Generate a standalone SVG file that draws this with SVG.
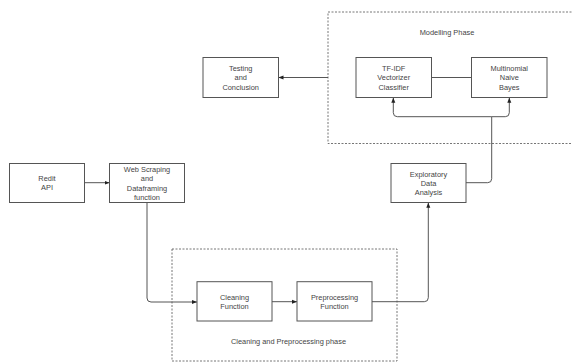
<svg xmlns="http://www.w3.org/2000/svg" width="572" height="363" viewBox="0 0 572 363">
<style>
.box{fill:#fff;stroke:#555;stroke-width:1}
.grp{fill:none;stroke:#666;stroke-width:0.9;stroke-dasharray:2,1.5}
.t{font-family:"Liberation Sans",Arial,sans-serif;font-size:7.4px;fill:#444;text-anchor:middle}
.c{fill:none;stroke:#555;stroke-width:1}
</style>
<defs>
<marker id="ah" viewBox="0 0 10 10" refX="10" refY="5" markerWidth="5" markerHeight="5" orient="auto" markerUnits="userSpaceOnUse">
<path d="M0 1 L10 5 L0 9 Z" fill="#222"/>
</marker>
</defs>
<rect width="572" height="363" fill="#fff"/>
<g id="modelling-phase">
<rect class="grp" x="328" y="12" width="250" height="131.5"/>
<text class="t" x="447" y="34.5">Modelling Phase</text>
</g>
<g id="cleaning-phase">
<rect class="grp" x="172" y="249" width="225" height="112"/>
<text class="t" x="288.5" y="344">Cleaning and Preprocessing phase</text>
</g>
<g id="connectors">
<path class="c" d="M84.5 182.7 H109.5" marker-end="url(#ah)"/>
<path class="c" d="M147 202.7 V298 Q147 302 151 302 H197" marker-end="url(#ah)"/>
<path class="c" d="M272 301.7 H297" marker-end="url(#ah)"/>
<path class="c" d="M372 301.7 H424.3 Q428.3 301.7 428.3 297.7 V202.7" marker-end="url(#ah)"/>
<path class="c" d="M466 182.7 H487.7 Q491.7 182.7 491.7 178.7 V116.7"/>
<path class="c" d="M491.7 116.7 H397.3 Q393.3 116.7 393.3 112.7 V97.7" marker-end="url(#ah)"/>
<path class="c" d="M491.7 116.7 H505.3 Q509.3 116.7 509.3 112.7 V97.7" marker-end="url(#ah)"/>
<path class="c" d="M431.5 77.5 H471.5"/>
<path class="c" d="M328 77.5 H278.5" marker-end="url(#ah)"/>
</g>
<g id="redit">
<rect class="box" x="9.5" y="163.5" width="75" height="39"/>
<text class="t" x="47" y="180.8">Redit</text>
<text class="t" x="47" y="190.2">API</text>
</g>
<g id="web-scraping">
<rect class="box" x="109.5" y="163.5" width="75" height="39"/>
<text class="t" x="147" y="172">Web Scraping</text>
<text class="t" x="147" y="181.3">and</text>
<text class="t" x="147" y="190.8">Dataframing</text>
<text class="t" x="147" y="200">function</text>
</g>
<g id="testing">
<rect class="box" x="203" y="57.5" width="75.5" height="40"/>
<text class="t" x="240.7" y="70.8">Testing</text>
<text class="t" x="240.7" y="80.2">and</text>
<text class="t" x="240.7" y="89.8">Conclusion</text>
</g>
<g id="tfidf">
<rect class="box" x="356" y="57.5" width="75.5" height="40"/>
<text class="t" x="393.7" y="70.8">TF-IDF</text>
<text class="t" x="393.7" y="80.2">Vectorizer</text>
<text class="t" x="393.7" y="89.8">Classifier</text>
</g>
<g id="multinomial">
<rect class="box" x="471.5" y="57.5" width="75.5" height="40"/>
<text class="t" x="509.3" y="70.8">Multinomial</text>
<text class="t" x="509.3" y="80.2">Naive</text>
<text class="t" x="509.3" y="89.8">Bayes</text>
</g>
<g id="eda">
<rect class="box" x="391" y="163.5" width="75" height="39"/>
<text class="t" x="428.5" y="176.6">Exploratory</text>
<text class="t" x="428.5" y="185.6">Data</text>
<text class="t" x="428.5" y="195">Analysis</text>
</g>
<g id="cleaning">
<rect class="box" x="197" y="281.7" width="75" height="39.3"/>
<text class="t" x="234.5" y="300.2">Cleaning</text>
<text class="t" x="234.5" y="309.3">Function</text>
</g>
<g id="preprocessing">
<rect class="box" x="297" y="281.7" width="75" height="39.3"/>
<text class="t" x="334.5" y="300.2">Preprocessing</text>
<text class="t" x="334.5" y="309.3">Function</text>
</g>
</svg>
